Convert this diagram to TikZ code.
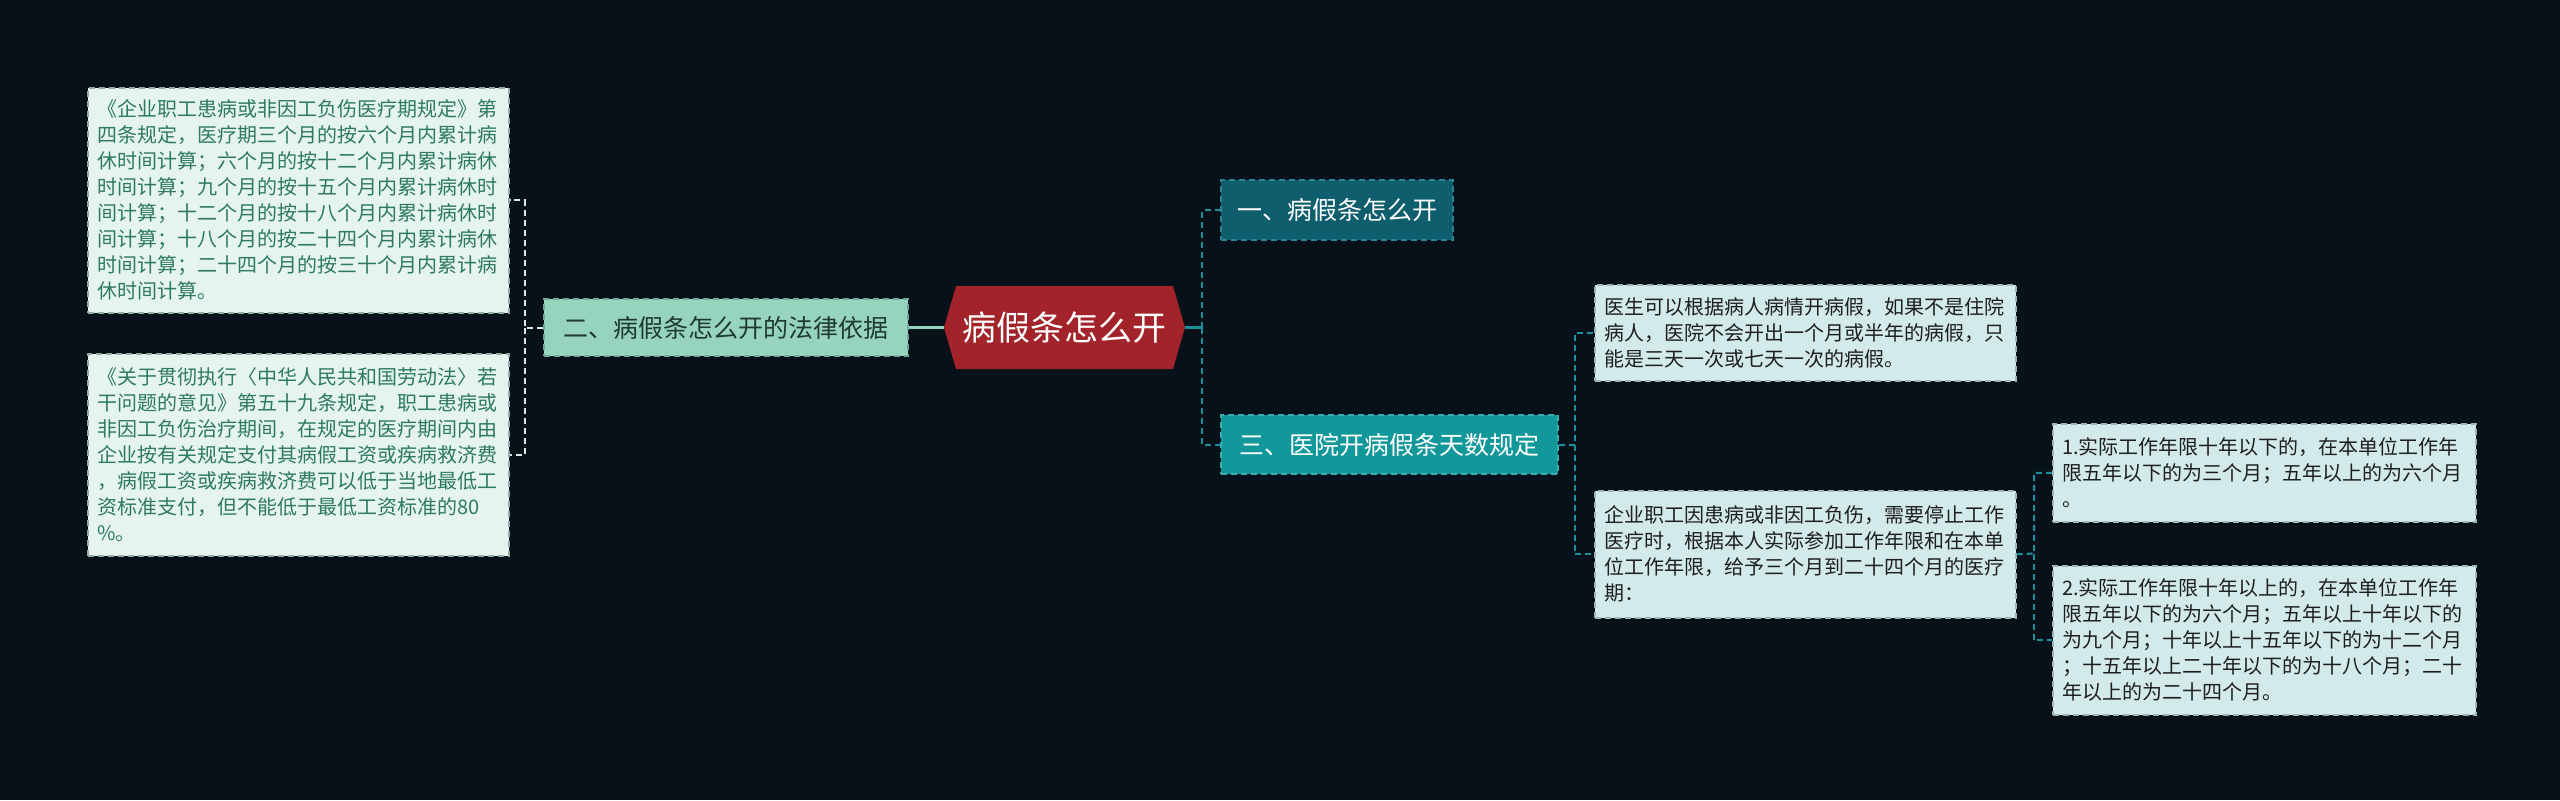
\documentclass[tikz,border=0pt]{standalone}
\usepackage{fontspec}
\setmainfont{Noto Sans CJK SC}
\usetikzlibrary{calc}
\definecolor{bg}{HTML}{06111A}
\definecolor{leafLfill}{HTML}{E6F4EF}
\definecolor{leafLborder}{HTML}{8FAEA2}
\definecolor{leafLtext}{HTML}{2E7A60}
\definecolor{leafRfill}{HTML}{D3EAEA}
\definecolor{leafRborder}{HTML}{9DB5B5}
\definecolor{leafRtext}{HTML}{1E1E1E}
\definecolor{twofill}{HTML}{97D4BE}
\definecolor{twoborder}{HTML}{6FA894}
\definecolor{twotext}{HTML}{1F3A33}
\definecolor{hexred}{HTML}{A2232A}
\definecolor{onefill}{HTML}{0F5E6E}
\definecolor{oneborder}{HTML}{2A8495}
\definecolor{threefill}{HTML}{12979A}
\definecolor{threeborder}{HTML}{3AADB0}
\definecolor{lineL}{HTML}{D6ECE4}
\definecolor{lineC}{HTML}{96D2C0}
\definecolor{lineR}{HTML}{1A909C}
\tikzset{
  dsh/.style={dash pattern=on 3pt off 2pt},
  leafbase/.style={anchor=north west, dsh, line width=0.8pt,
    font=\fontsize{10pt}{13pt}\selectfont, align=left, text width=201pt,
    inner xsep=4.75pt, inner ysep=0pt},
  leafL/.style={leafbase, draw=leafLborder, fill=leafLfill, text=leafLtext},
  leafR/.style={leafbase, draw=leafRborder, fill=leafRfill, text=leafRtext},
  midnode/.style={dsh, line width=0.8pt, inner sep=0pt,
    font=\fontsize{12.5pt}{15pt}\selectfont},
  twonode/.style={midnode, draw=twoborder, fill=twofill, text=twotext},
  onenode/.style={midnode, draw=oneborder, fill=onefill, text=white},
  threenode/.style={midnode, draw=threeborder, fill=threefill, text=white},
  hexnode/.style={inner sep=0pt, text=white, font=\fontsize{17pt}{20pt}\selectfont,
    minimum width=120.5pt, minimum height=41.5pt},
  connL/.style={draw=lineL, line width=1pt, dsh},
  connC/.style={draw=lineC, line width=1.6pt},
  connR/.style={draw=lineR, line width=1pt, dsh},
  connRs/.style={draw=lineR, line width=1.6pt}
}
\begin{document}
\begin{tikzpicture}[x=0.5pt,y=-0.5pt]
\useasboundingbox (0,0) rectangle (2560,800);
\fill[bg] (0,0) rectangle (2560,800);

% left leaves
\node[leafL, minimum height=112.5pt] (L1) at (87,87) {《企业职工患病或非因工负伤医疗期规定》第\\四条规定，医疗期三个月的按六个月内累计病\\休时间计算；六个月的按十二个月内累计病休\\时间计算；九个月的按十五个月内累计病休时\\间计算；十二个月的按十八个月内累计病休时\\间计算；十八个月的按二十四个月内累计病休\\时间计算；二十四个月的按三十个月内累计病\\休时间计算。};
\node[leafL, minimum height=101pt] (L2) at (87,353) {《关于贯彻执行〈中华人民共和国劳动法〉若\\干问题的意见》第五十九条规定，职工患病或\\非因工负伤治疗期间，在规定的医疗期间内由\\企业按有关规定支付其病假工资或疾病救济费\\，病假工资或疾病救济费可以低于当地最低工\\资标准支付，但不能低于最低工资标准的80\\\%。};

% middle nodes
\node[twonode, minimum width=182pt, minimum height=28.5pt] (two) at (726,327.5) {二、病假条怎么开的法律依据};

\fill[hexred] (944,327.5) -- (956,286) -- (1173,286) -- (1185,327.5) -- (1173,369) -- (956,369) -- cycle;
\node[hexnode] (hex) at (1064.5,327.5) {病假条怎么开};

\node[onenode, minimum width=116pt, minimum height=30pt] (one) at (1337,210) {一、病假条怎么开};
\node[threenode, minimum width=168.5pt, minimum height=29.5pt] (three) at (1389.5,444.5) {三、医院开病假条天数规定};

% right leaves
\node[leafR, minimum height=48pt] (R1) at (1594,284) {医生可以根据病人病情开病假，如果不是住院\\病人，医院不会开出一个月或半年的病假，只\\能是三天一次或七天一次的病假。};
\node[leafR, minimum height=63.5pt] (R2) at (1594,490) {企业职工因患病或非因工负伤，需要停止工作\\医疗时，根据本人实际参加工作年限和在本单\\位工作年限，给予三个月到二十四个月的医疗\\期：};
\node[leafR, minimum height=49pt, text width=202pt] (RR1) at (2052,423) {1.实际工作年限十年以下的，在本单位工作年\\限五年以下的为三个月；五年以上的为六个月\\。};
\node[leafR, minimum height=74.5pt, text width=202pt] (RR2) at (2052,565) {2.实际工作年限十年以上的，在本单位工作年\\限五年以下的为六个月；五年以上十年以下的\\为九个月；十年以上十五年以下的为十二个月\\；十五年以上二十年以下的为十八个月；二十\\年以上的为二十四个月。};

% connectors
\coordinate (tL) at (525,327.5);
\draw[connL] (two.west) -- (tL) |- (L1.east);
\draw[connL] (tL) |- (L2.east);
\draw[connC] (two.east) -- (hex.west);
\coordinate (tR) at (1202,327.5);
\draw[connRs] (hex.east) -- (tR);
\draw[connR] (tR) |- (one.west);
\draw[connR] (tR) |- (three.west);
\coordinate (tR2) at (1575,444.5);
\draw[connR] (three.east) -- (tR2) |- (R1.west);
\draw[connR] (tR2) |- (R2.west);
\coordinate (tR3) at (2034,553.5);
\draw[connR] (R2.east) -- (tR3) |- (RR1.west);
\draw[connR] (tR3) |- (RR2.west);
\end{tikzpicture}
\end{document}
